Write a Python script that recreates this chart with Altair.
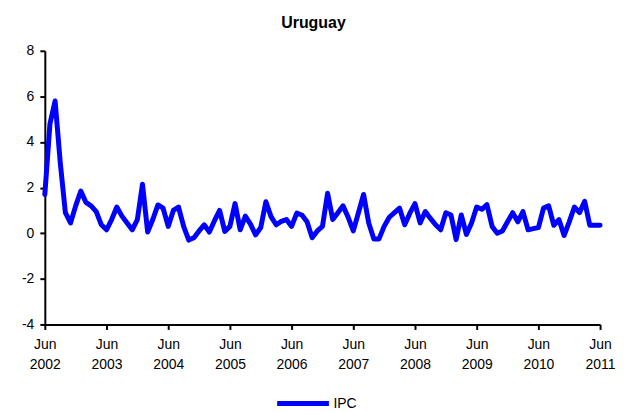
import altair as alt
import pandas as pd

# Monthly IPC variation (%), Jun 2002 .. Jun 2011
ipc = [
    1.7, 4.8, 5.8, 3.1, 0.9, 0.45, 1.2, 1.85, 1.35, 1.2, 0.95, 0.37,
    0.15, 0.6, 1.15, 0.75, 0.45, 0.15, 0.6, 2.15, 0.05, 0.6, 1.24, 1.1,
    0.3, 1.0, 1.15, 0.3, -0.3, -0.2, 0.1, 0.37, 0.05, 0.55, 1.0, 0.08,
    0.3, 1.3, 0.15, 0.75, 0.4, -0.07, 0.25, 1.38, 0.73, 0.37, 0.52, 0.6,
    0.3, 0.88, 0.8, 0.5, -0.2, 0.1, 0.3, 1.75, 0.6, 0.9, 1.2, 0.7,
    0.1, 0.9, 1.7, 0.45, -0.25, -0.25, 0.3, 0.7, 0.9, 1.1, 0.37, 0.88,
    1.3, 0.45, 0.95, 0.65, 0.37, 0.15, 0.9, 0.8, -0.28, 0.8, -0.05, 0.45,
    1.15, 1.05, 1.25, 0.3, 0.0, 0.1, 0.5, 0.9, 0.5, 0.95, 0.15, 0.2,
    0.25, 1.1, 1.2, 0.35, 0.6, -0.1, 0.5, 1.15, 0.9, 1.4, 0.35, 0.35,
    0.35,
]
month_index = list(range(len(ipc)))  # months since Jun 2002
tick_months = [0, 12, 24, 36, 48, 60, 72, 84, 96, 108]
tick_years = ["2002", "2003", "2004", "2005", "2006", "2007", "2008", "2009", "2010", "2011"]
y_ticks = [-4, -2, 0, 2, 4, 6, 8]
series_name = "IPC"

df = pd.DataFrame({"m": month_index, "ipc": ipc, "serie": [series_name] * len(ipc)})

year_map = "{" + ",".join(f"'{m}':'{y}'" for m, y in zip(tick_months, tick_years)) + "}"
label_expr = f"['Jun', {year_map}[toString(datum.value)]]"

FONT = "Liberation Sans"

chart = (
    alt.Chart(df)
    .mark_line(strokeWidth=5, strokeJoin="round", strokeCap="round")
    .encode(
        x=alt.X(
            "m:Q",
            scale=alt.Scale(domain=[0, 108], nice=False, zero=False),
            axis=alt.Axis(
                values=tick_months,
                labelExpr=label_expr,
                title=None,
                grid=False,
                domainColor="black",
                domainWidth=2,
                tickColor="black",
                tickWidth=2,
                tickSize=5,
                labelFont=FONT,
                labelFontSize=14,
                labelColor="black",
                labelPadding=8,
                labelLineHeight=20,
                labelFlush=False,
                labelOverlap=False,
            ),
        ),
        y=alt.Y(
            "ipc:Q",
            scale=alt.Scale(domain=[-4, 8], nice=False, zero=False),
            axis=alt.Axis(
                values=y_ticks,
                labelExpr="toString(datum.value)",
                title=None,
                grid=False,
                domainColor="black",
                domainWidth=2,
                tickColor="black",
                tickWidth=2,
                tickSize=5,
                labelFont=FONT,
                labelFontSize=14,
                labelColor="black",
                labelPadding=6,
            ),
        ),
        color=alt.Color(
            "serie:N",
            scale=alt.Scale(range=["#0000FF"]),
            legend=alt.Legend(
                title=None,
                orient="none",
                legendX=231,
                legendY=326,
                symbolType="stroke",
                symbolSize=2704,
                symbolStrokeWidth=5,
                labelFont=FONT,
                labelFontSize=14,
                labelColor="black",
                labelOffset=2,
            ),
        ),
    )
    .properties(
        width=558,
        height=275,
        autosize="none",
        padding={"left": 37, "top": 42, "right": 16, "bottom": 90},
        title=alt.TitleParams(
            "Uruguay",
            font=FONT,
            fontSize=16,
            fontWeight="bold",
            color="black",
            anchor="middle",
            offset=13,
            dx=-9,
        ),
    )
    .configure_view(stroke=None)
)

chart.save("out.html", embed_options={"renderer": "svg", "actions": False})
